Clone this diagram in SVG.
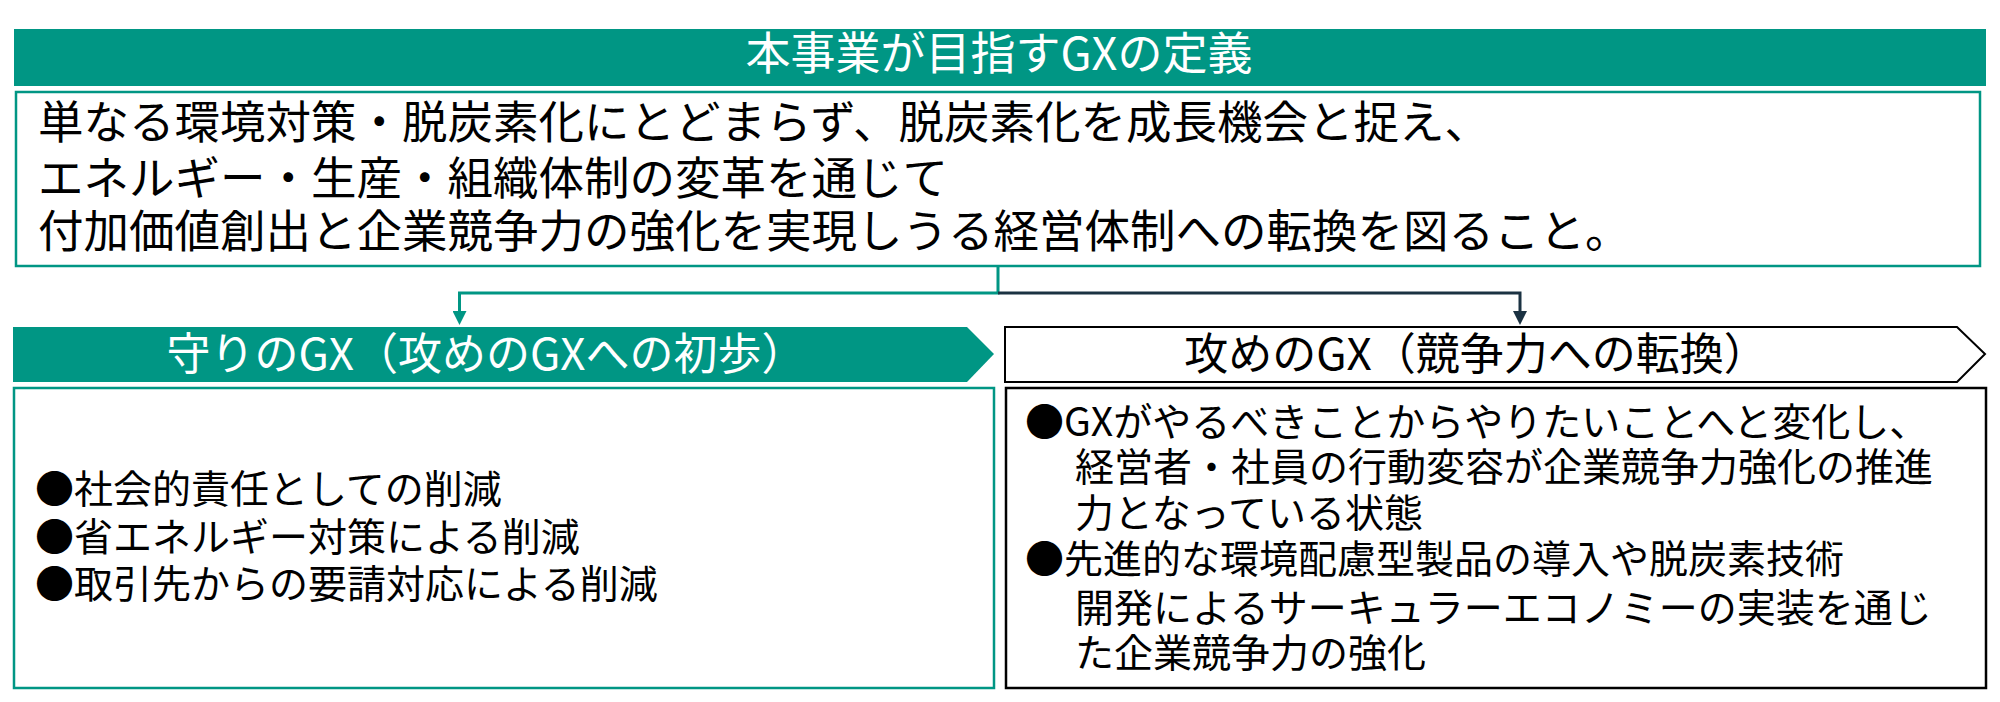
<svg xmlns="http://www.w3.org/2000/svg" width="2000" height="702" viewBox="0 0 2000 702">
<defs>
<style>
.t{font-family:"Noto Sans CJK JP","Noto Sans CJK SC",sans-serif;}
.hd{font-size:45px;fill:#ffffff;}
.def{font-size:45.5px;fill:#000000;}
.bar{font-size:44px;}
.body{font-size:39px;fill:#000000;}
.teal{fill:#009684;}
</style>
<marker id="arrT" viewBox="0 0 14 14" refX="0" refY="7" markerWidth="14" markerHeight="14" markerUnits="userSpaceOnUse" orient="auto">
<path d="M0,0 L14,7 L0,14 Z" fill="#009684"/>
</marker>
<marker id="arrD" viewBox="0 0 14 14" refX="0" refY="7" markerWidth="14" markerHeight="14" markerUnits="userSpaceOnUse" orient="auto">
<path d="M0,0 L14,7 L0,14 Z" fill="#1b3242"/>
</marker>
</defs>
<rect x="0" y="0" width="2000" height="702" fill="#ffffff"/>

<g id="header">
<rect x="14" y="29" width="1972" height="57" class="teal"/>
<text class="t hd" x="999" y="70" text-anchor="middle">本事業が目指すGXの定義</text>
</g>

<g id="definition">
<rect x="16" y="92" width="1964" height="174" fill="#ffffff" stroke="#009684" stroke-width="2.5"/>
<text class="t def" x="38" y="139">単なる環境対策・脱炭素化にとどまらず、脱炭素化を成長機会と捉え、</text>
<text class="t def" x="38" y="195">エネルギー・生産・組織体制の変革を通じて</text>
<text class="t def" x="38" y="248">付加価値創出と企業競争力の強化を実現しうる経営体制への転換を図ること。</text>
</g>

<g id="connectors" fill="none" stroke-width="3">
<path d="M998,266 L998,293 L459.5,293 L459.5,311" stroke="#009684" marker-end="url(#arrT)"/>
<path d="M998,293 L1520,293 L1520,311" stroke="#1b3242" marker-end="url(#arrD)"/>
</g>

<g id="defensive-title">
<path d="M13,327 L967,327 L994,354 L967,382 L13,382 Z" class="teal"/>
<text class="t bar" x="486" y="370" text-anchor="middle" fill="#ffffff">守りのGX（攻めのGXへの初歩）</text>
</g>

<g id="offensive-title">
<path d="M1005,327 L1957,327 L1985,354 L1957,382 L1005,382 Z" fill="#ffffff" stroke="#000000" stroke-width="2"/>
<text class="t bar" x="1476" y="370" text-anchor="middle" fill="#000000">攻めのGX（競争力への転換）</text>
</g>

<g id="defensive-body">
<rect x="14" y="388" width="980" height="300" fill="#ffffff" stroke="#009684" stroke-width="2.5"/>
<text class="t body" x="35" y="503">●社会的責任としての削減</text>
<text class="t body" x="35" y="551">●省エネルギー対策による削減</text>
<text class="t body" x="35" y="598">●取引先からの要請対応による削減</text>
</g>

<g id="offensive-body">
<rect x="1006" y="388" width="980" height="300" fill="#ffffff" stroke="#000000" stroke-width="2.5"/>
<text class="t body" x="1025" y="436">●GXがやるべきことからやりたいことへと変化し、</text>
<text class="t body" x="1075" y="481">経営者・社員の行動変容が企業競争力強化の推進</text>
<text class="t body" x="1075" y="527">力となっている状態</text>
<text class="t body" x="1025" y="573">●先進的な環境配慮型製品の導入や脱炭素技術</text>
<text class="t body" x="1075" y="622">開発によるサーキュラーエコノミーの実装を通じ</text>
<text class="t body" x="1075" y="667">た企業競争力の強化</text>
</g>
</svg>
